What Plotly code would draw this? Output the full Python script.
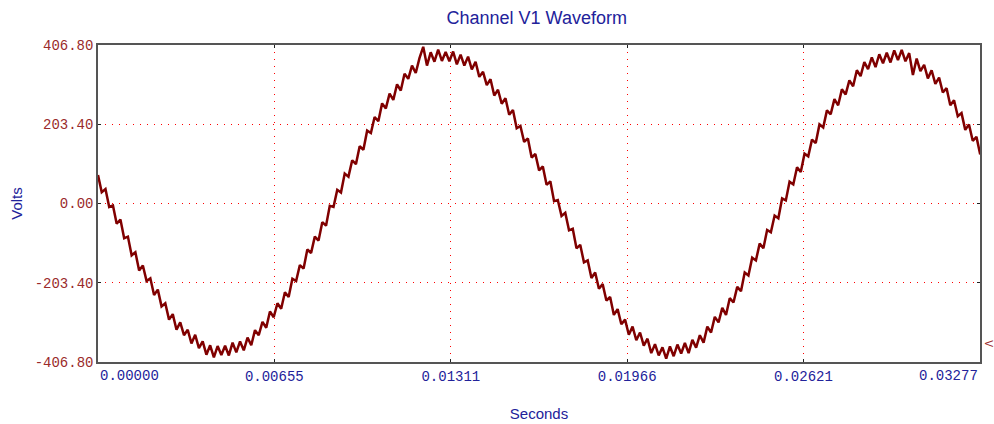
import plotly.graph_objects as go

# sampled waveform, 60 Hz, one sample every 1/7200 s
sample_dt = 1.0 / 7200.0
volts = [
    73, 29, 37, -9,
    -5, -52, -41, -89, -85, -133, -125, -172, -159, -199, -192, -235, -221, -264, -256, -298,
    -284, -324, -305, -338, -324, -359, -337, -371, -354, -388, -364, -395, -366, -389, -365, -390,
    -357, -382, -354, -377, -344, -364, -325, -338, -304, -319, -277, -292, -256, -270, -228, -240,
    -193, -199, -158, -167, -118, -127, -85, -95, -48, -57, -6,
    -9,
    35, 28, 77, 69, 111, 101, 147, 138, 187, 181, 222, 211, 257, 244, 282, 266,
    306, 290, 333, 320, 354, 335, 373, 402, 354, 388, 364, 395, 366, 389, 365, 390,
    357, 382, 354, 377, 344, 364, 325, 338, 304, 319, 277, 292, 256, 270, 228, 240,
    193, 199, 158, 167, 118, 127, 85, 95, 48, 57, 6,
    9,
    -32, -24, -69, -65, -115, -106, -151, -146, -191, -177, -219, -207, -249, -240, -286, -271,
    -310, -298, -337, -316, -351, -331, -365, -347, -384, -361, -390, -369, -398, -367, -392, -362,
    -385, -358, -384, -350, -370, -338, -357, -316, -331, -291, -305, -268, -286, -243, -254, -214,
    -225, -177, -185, -139, -146, -103, -115, -68, -74, -31, -38,
    13,
    8, 56, 49, 93, 81, 128, 121, 164, 155, 203, 195, 239, 229, 268, 252, 293,
    280, 316, 301, 342, 327, 363, 345, 375, 350, 383, 360, 387, 362, 393, 368, 394,
    365, 386, 330, 372, 340, 356, 321, 342, 307, 323, 285, 296, 252, 265, 224, 232,
    189, 203, 161, 171, 126,
]

x_ticks = [0.0, 0.00655, 0.01311, 0.01966, 0.02621, 0.03277]
x_tick_text = ["0.00000", "0.00655", "0.01311", "0.01966", "0.02621", "0.03277"]
y_ticks = [-406.8, -203.4, 0.0, 203.4, 406.8]
y_tick_text = ["-406.80", "-203.40", "0.00", "203.40", "406.80"]

blue = "#22229a"
red_text = "#9a2a2a"
mono = "Liberation Mono, Courier New, monospace"
sans = "Liberation Sans, Arial, sans-serif"

fig = go.Figure()
fig.add_trace(go.Scatter(
    x0=0, dx=sample_dt, y=volts, mode="lines",
    line=dict(color="#800000", width=2.5),
    hoverinfo="skip", showlegend=False,
))

fig.update_layout(
    width=994, height=424,
    margin=dict(l=98, r=14, t=45, b=62),
    paper_bgcolor="white", plot_bgcolor="white",
    title=dict(text="Channel V1 Waveform", x=0.54, xanchor="center", y=0.958, yanchor="middle",
               font=dict(family=sans, size=18, color=blue)),
)

grid = dict(showgrid=True, gridcolor="#ff0000", griddash="1px,6px", gridwidth=1)

fig.update_xaxes(
    range=[x_ticks[0], x_ticks[-1]], automargin=False,
    tickmode="array", tickvals=x_ticks[1:-1], ticktext=x_tick_text[1:-1],
    ticks="inside", ticklen=3, tickcolor="#222",
    tickfont=dict(family=mono, size=14, color=blue),
    showline=True, mirror="ticks", linecolor="#555", linewidth=1.5,
    zeroline=False,
    title=dict(text="Seconds", font=dict(family=sans, size=15, color=blue), standoff=25),
    **grid
)
fig.update_yaxes(
    range=[y_ticks[0], y_ticks[-1]], automargin=False,
    tickmode="array", tickvals=y_ticks, ticktext=y_tick_text,
    ticks="inside", ticklen=3, tickcolor="#222",
    tickfont=dict(family=mono, size=14, color=red_text),
    showline=True, mirror="ticks", linecolor="#555", linewidth=1.5,
    zeroline=False,
    title=dict(text="Volts", font=dict(family=sans, size=15, color=blue), standoff=8),
    **grid
)

# end tick labels are pulled inside the plot edges
fig.add_annotation(x=x_ticks[0], y=0, xref="x", yref="paper", yanchor="top", xanchor="left",
                   yshift=-4, text=x_tick_text[0], showarrow=False,
                   font=dict(family=mono, size=14, color=blue))
fig.add_annotation(x=x_ticks[-1], y=0, xref="x", yref="paper", yanchor="top", xanchor="right",
                   yshift=-4, text=x_tick_text[-1], showarrow=False,
                   font=dict(family=mono, size=14, color=blue))
# small right-hand axis label
fig.add_annotation(x=1.0, y=0.04, xref="paper", yref="paper", xanchor="left", xshift=1,
                   text="V", textangle=90, showarrow=False,
                   font=dict(family=sans, size=10, color=red_text))

# the page's default body margin would shift the chart by 8px
fig.write_html("out.html", config={"displayModeBar": False},
               post_script="document.body.style.margin='0';")
